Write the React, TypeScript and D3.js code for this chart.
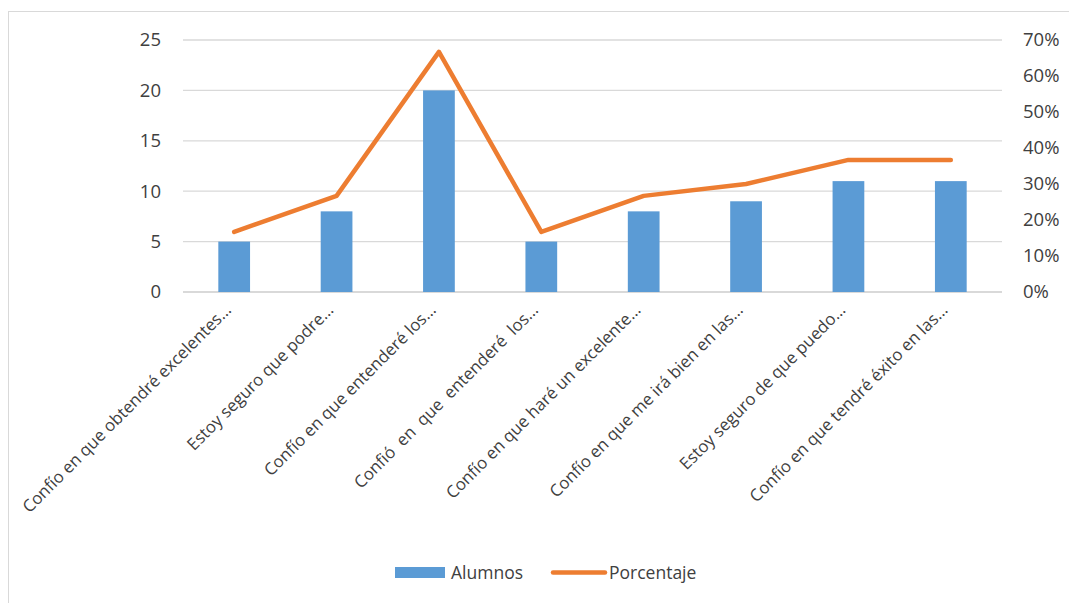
import { useEffect, useRef } from 'react';
import * as d3 from 'd3';

const categories = [
  'Confío en que obtendré excelentes…',
  'Estoy seguro que podre…',
  'Confío en que entenderé los…',
  'Confió  en  que  entenderé  los…',
  'Confío en que haré un excelente…',
  'Confío en que me irá bien en las…',
  'Estoy seguro de que puedo…',
  'Confío en que tendré éxito en las…',
];
const alumnos = [5, 8, 20, 5, 8, 9, 11, 11];
const porcentaje = [0.167, 0.267, 0.667, 0.167, 0.267, 0.3, 0.367, 0.367];
const leftTicks = [0, 5, 10, 15, 20, 25];
const rightTicks = [0, 0.1, 0.2, 0.3, 0.4, 0.5, 0.6, 0.7];

const svgWidth = 1069;
const svgHeight = 603;
const font = '"Open Sans", "DejaVu Sans", sans-serif';

function App() {
  const ref = useRef<SVGSVGElement>(null);

  useEffect(() => {
    const svg = d3.select(ref.current);
    svg.selectAll('*').remove();

    const left = 183;
    const right = 1002;
    const top = 40;
    const bottom = 292;

    // Outer frame
    svg
      .append('rect')
      .attr('x', 8.5)
      .attr('y', 11.5)
      .attr('width', 1070)
      .attr('height', 600)
      .attr('fill', 'white')
      .attr('stroke', '#d9d9d9');

    const x = d3
      .scaleBand()
      .domain(categories)
      .range([left, right])
      .paddingInner(0.69)
      .paddingOuter(0.345);
    const y = d3.scaleLinear().domain([0, 25]).range([bottom, top]);
    const y2 = d3.scaleLinear().domain([0, 0.7]).range([bottom, top]);

    // Gridlines
    svg
      .append('g')
      .selectAll('line')
      .data(leftTicks)
      .join('line')
      .attr('x1', left)
      .attr('x2', right)
      .attr('y1', (d) => y(d))
      .attr('y2', (d) => y(d))
      .attr('stroke', '#d9d9d9')
      .attr('stroke-width', (d) => (d === 0 ? 2 : 1.3));

    // Left axis labels
    svg
      .append('g')
      .selectAll('text')
      .data(leftTicks)
      .join('text')
      .attr('x', 161)
      .attr('y', (d) => y(d))
      .attr('dy', '0.35em')
      .attr('text-anchor', 'end')
      .attr('font-family', font)
      .attr('font-size', 18.5)
      .attr('fill', '#404040')
      .text((d) => d);

    // Right axis labels
    svg
      .append('g')
      .selectAll('text')
      .data(rightTicks)
      .join('text')
      .attr('x', 1023)
      .attr('y', (d) => y2(d))
      .attr('dy', '0.35em')
      .attr('font-family', font)
      .attr('font-size', 18.5)
      .attr('fill', '#404040')
      .text((d) => d3.format('.0%')(d));

    // Bars
    svg
      .append('g')
      .attr('fill', '#5B9BD5')
      .selectAll('rect')
      .data(alumnos)
      .join('rect')
      .attr('x', (_, i) => x(categories[i]) as number)
      .attr('y', (d) => y(d))
      .attr('width', x.bandwidth())
      .attr('height', (d) => y(0) - y(d));

    // Line
    const line = d3
      .line<number>()
      .x((_, i) => (x(categories[i]) as number) + x.bandwidth() / 2)
      .y((d) => y2(d));
    svg
      .append('path')
      .datum(porcentaje)
      .attr('d', line)
      .attr('fill', 'none')
      .attr('stroke', '#ED7D31')
      .attr('stroke-width', 4.5)
      .attr('stroke-linecap', 'round')
      .attr('stroke-linejoin', 'round');

    // Category labels
    svg
      .append('g')
      .selectAll('text')
      .data(categories)
      .join('text')
      .attr(
        'transform',
        (d) => `translate(${(x(d) as number) + x.bandwidth() / 2 - 2}, 311) rotate(-45)`
      )
      .attr('text-anchor', 'end')
      .attr('font-family', font)
      .attr('font-size', 16.8)
      .attr('fill', '#404040')
      .style('white-space', 'pre')
      .text((d) => d);

    // Legend
    const legend = svg.append('g');
    legend
      .append('rect')
      .attr('x', 395)
      .attr('y', 567)
      .attr('width', 50)
      .attr('height', 11)
      .attr('fill', '#5B9BD5');
    legend
      .append('text')
      .attr('x', 451)
      .attr('y', 573)
      .attr('dy', '0.35em')
      .attr('font-family', font)
      .attr('font-size', 17.5)
      .attr('fill', '#404040')
      .text('Alumnos');
    legend
      .append('line')
      .attr('x1', 553)
      .attr('x2', 605)
      .attr('y1', 572.5)
      .attr('y2', 572.5)
      .attr('stroke', '#ED7D31')
      .attr('stroke-width', 4.5)
      .attr('stroke-linecap', 'round');
    legend
      .append('text')
      .attr('x', 609)
      .attr('y', 573)
      .attr('dy', '0.35em')
      .attr('font-family', font)
      .attr('font-size', 17.5)
      .attr('fill', '#404040')
      .text('Porcentaje');
  }, []);

  return (
    <svg
      ref={ref}
      width={svgWidth}
      height={svgHeight}
      style={{ position: 'absolute', left: 0, top: 0 }}
    ></svg>
  );
}

export default App;
